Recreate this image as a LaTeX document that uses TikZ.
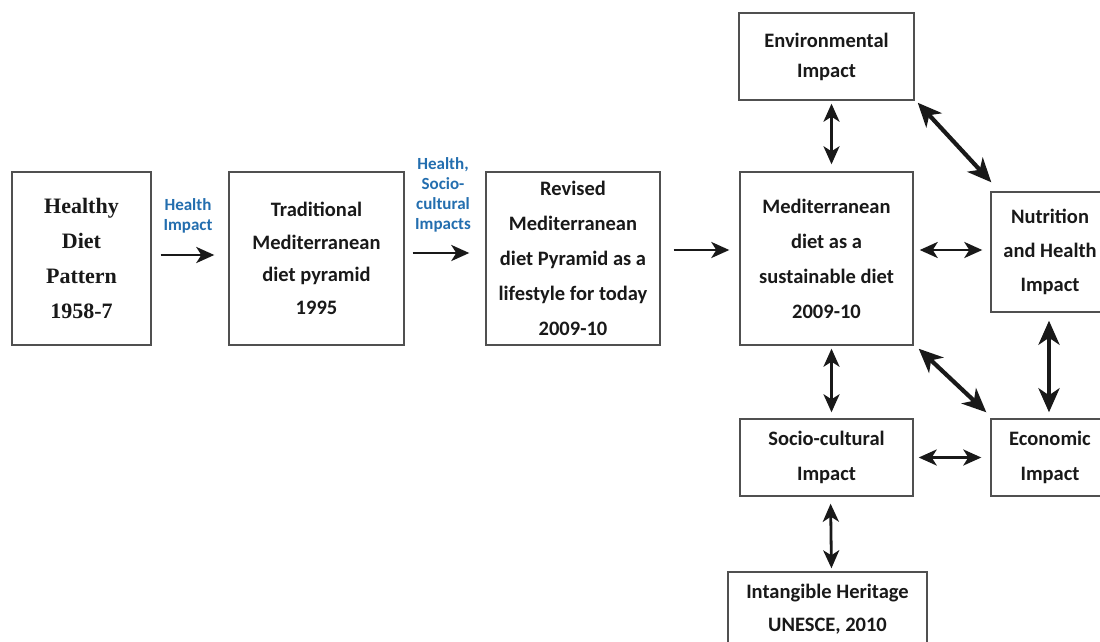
\documentclass[tikz,border=0pt]{standalone}
\usepackage{fontspec}
\setmainfont{Carlito}
\newfontfamily\serifbox{Liberation Serif}
\usetikzlibrary{arrows.meta}
\definecolor{lblblue}{RGB}{35,110,175}
\definecolor{boxgray}{RGB}{80,80,80}
\definecolor{ink}{RGB}{25,25,25}
\begin{document}
\begin{tikzpicture}[x=1pt,y=-1pt,
  box/.style={draw=boxgray, line width=1.4pt, align=center, inner sep=0pt, text=ink,
    font=\bfseries\fontsize{20.5}{35}\selectfont},
  lbl/.style={text=lblblue, align=center, inner sep=0pt,
    font=\bfseries\fontsize{17}{19.5}\selectfont},
  tipS/.tip={Stealth[length=18pt,width=16pt,inset=5pt]},
  tipL/.tip={Stealth[length=24pt,width=21pt,inset=7pt]},
  arr/.style={-tipS, line width=2.8pt, draw=ink},
  darr/.style={tipS-tipS, line width=2.8pt, draw=ink},
  tarr/.style={tipL-tipL, line width=4.2pt, draw=ink},
]
\useasboundingbox (0,0) rectangle (1100,642);
\clip (0,0) rectangle (1100,642);
\fill[white] (0,0) rectangle (1100,642);

% main row
\node[box, minimum width=139pt, minimum height=173pt,
  font=\serifbox\bfseries\fontsize{22}{35}\selectfont] (healthy) at (81.5,258.5)
  {Healthy\\Diet\\Pattern\\1958-7};
\node[box, minimum width=175pt, minimum height=173pt,
  font=\bfseries\fontsize{20.5}{32.5}\selectfont] (trad) at (316.5,258.5)
  {Traditional\\Mediterranean\\diet pyramid\\1995};
\node[box, minimum width=174pt, minimum height=173pt] (revised) at (573,258.5)
  {Revised\\Mediterranean\\diet Pyramid as a\\lifestyle for today\\2009-10};
\node[box, minimum width=173pt, minimum height=173pt] (med) at (826.5,258.5)
  {Mediterranean\\diet as a\\sustainable diet\\2009-10};

% cluster
\node[box, minimum width=175pt, minimum height=87pt,
  font=\bfseries\fontsize{20.5}{30}\selectfont] (env) at (826.5,56.5)
  {Environmental\\Impact};
\node[box, minimum width=118pt, minimum height=120pt,
  font=\bfseries\fontsize{20.5}{34}\selectfont] (nut) at (1050,252)
  {Nutrition\\and Health\\Impact};
\node[box, minimum width=173pt, minimum height=77pt] (socio) at (826.5,457.5)
  {Socio-cultural\\Impact};
\node[box, minimum width=118pt, minimum height=77pt] (econ) at (1050,457.5)
  {Economic\\Impact};
\node[box, minimum width=199pt, minimum height=74pt,
  font=\bfseries\fontsize{20.5}{33}\selectfont] (intang) at (827.5,609)
  {Intangible Heritage\\UNESCE, 2010};

% labels
\node[lbl] (lblA) at (188,216) {Health\\Impact};
\node[lbl, font=\bfseries\fontsize{17}{20}\selectfont] (lblB) at (443,195) {Health,\\Socio-\\cultural\\Impacts};

% main arrows
\draw[arr, shorten <=9pt, shorten >=14pt] ([yshift=3.5pt]healthy.east) -- ([yshift=3.5pt]trad.west);
\draw[arr, shorten <=8pt, shorten >=16pt] ([yshift=5.5pt]trad.east) -- ([yshift=5.5pt]revised.west);
\draw[arr, shorten <=13pt, shorten >=10pt] ([yshift=8.5pt]revised.east) -- ([yshift=8.5pt]med.west);

% cluster arrows
\draw[darr, shorten <=3pt, shorten >=7pt] ([xshift=5pt]env.south) -- ([xshift=5pt]med.north);
\draw[darr, shorten <=3pt, shorten >=6pt] ([xshift=5pt]med.south) -- ([xshift=5pt]socio.north);
\draw[darr, shorten <=7pt, shorten >=3pt] ([xshift=4pt]socio.south) -- ([xshift=4pt]intang.north);
\draw[darr, shorten <=6pt, shorten >=8pt] ([yshift=8.5pt]med.east) -- ([yshift=2pt]nut.west);
\draw[darr, shorten <=5pt, shorten >=9pt] (socio.east) -- (econ.west);
\draw[tarr, shorten <=8pt, shorten >=6pt] ([xshift=-1pt]nut.south) -- ([xshift=-1pt]econ.north);
\draw[tarr] ([shift={(3,2)}]env.south east) -- ([shift={(1,-9)}]nut.north west);
\draw[tarr] ([shift={(5,3)}]med.south east) -- ([shift={(-4,-6)}]econ.north west);
\end{tikzpicture}
\end{document}
